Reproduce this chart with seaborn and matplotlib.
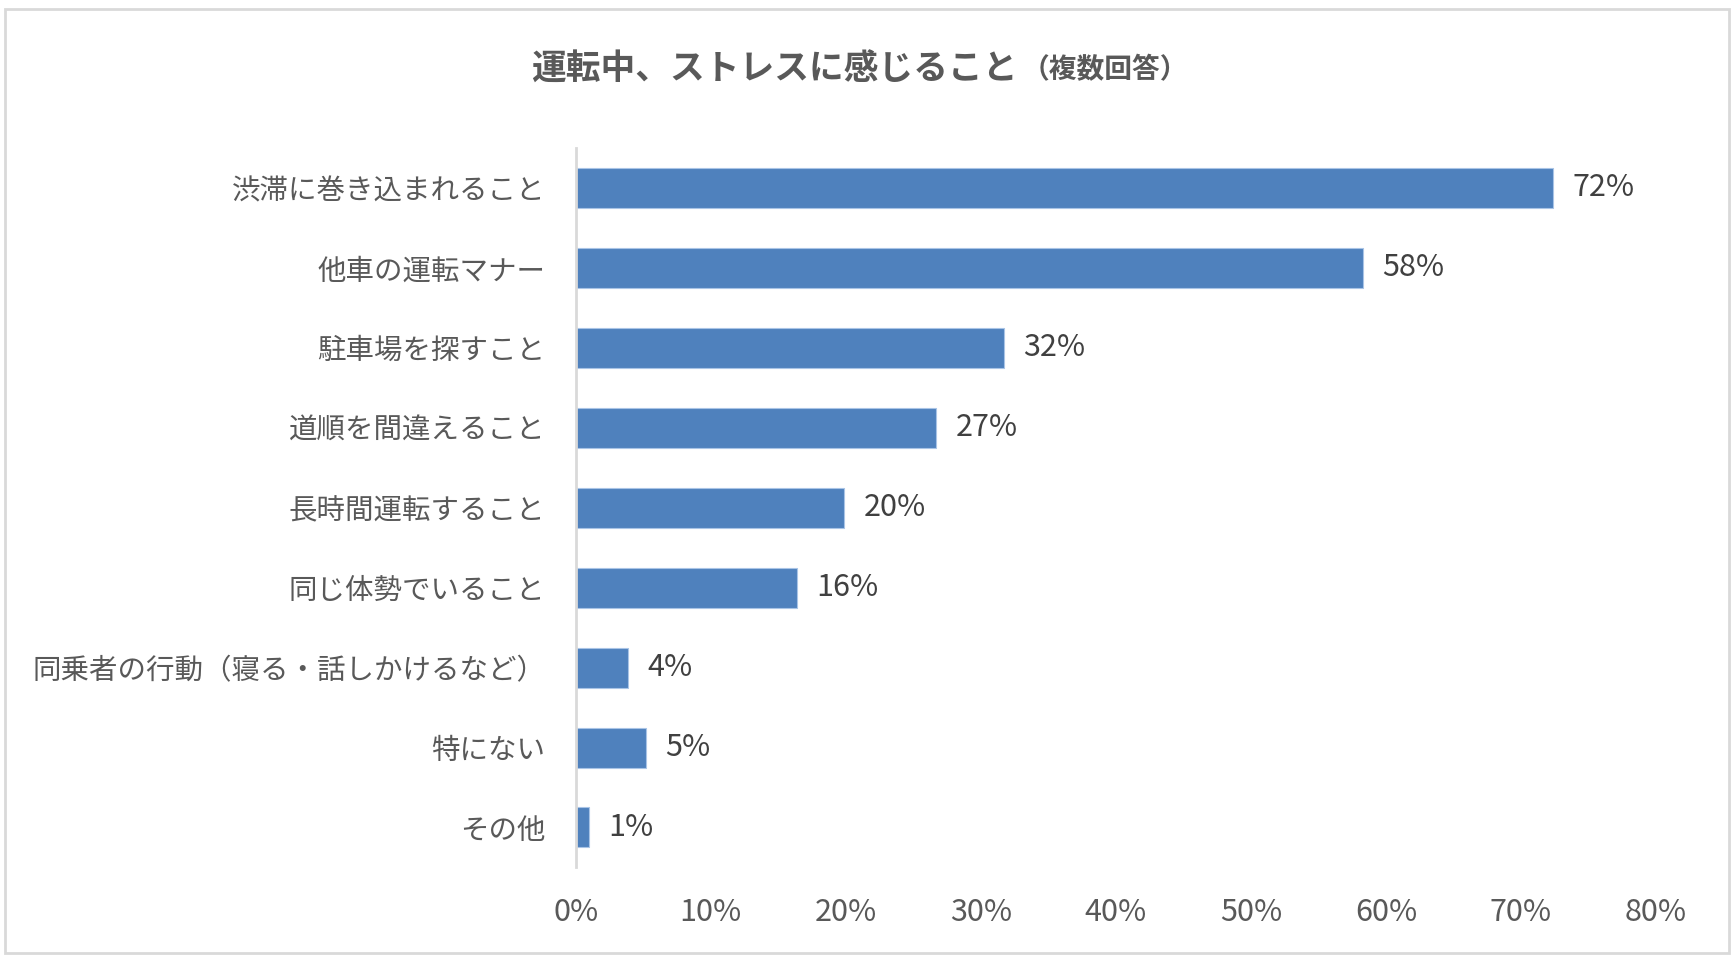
import matplotlib
matplotlib.use("Agg")
import matplotlib.pyplot as plt
import pandas as pd
import seaborn as sns
from matplotlib.patches import Rectangle

# Data (percent)
categories = [
    "渋滞に巻き込まれること",
    "他車の運転マナー",
    "駐車場を探すこと",
    "道順を間違えること",
    "長時間運転すること",
    "同じ体勢でいること",
    "同乗者の行動（寝る・話しかけるなど）",
    "特にない",
    "その他",
]
values = [72.4, 58.3, 31.7, 26.7, 19.9, 16.4, 3.9, 5.2, 1.0]
value_labels = ["72%", "58%", "32%", "27%", "20%", "16%", "4%", "5%", "1%"]
x_ticks = [0, 10, 20, 30, 40, 50, 60, 70, 80]

BAR_COLOR = "#4F81BD"
TEXT_GRAY = "#595959"
LABEL_DARK = "#404040"
LINE_GRAY = "#D9D9D9"

sns.set_style("white")
plt.rcParams["font.family"] = ["Noto Sans CJK JP", "DejaVu Sans"]

df = pd.DataFrame({"item": categories, "pct": values})

fig = plt.figure(figsize=(17.34, 9.58), dpi=100)
ax = fig.add_axes([0.332, 0.0945, 0.623, 0.7512])

sns.barplot(
    data=df,
    x="pct",
    y="item",
    orient="h",
    color=BAR_COLOR,
    width=0.5,
    saturation=1,
    ax=ax,
)
for bar in ax.patches:
    bar.set_edgecolor("#A9C4E6")
    bar.set_linewidth(0.8)

ax.bar_label(ax.containers[0], labels=value_labels, padding=14,
             fontsize=22, color=LABEL_DARK)

ax.set_xlim(0, 80)
ax.set_ylim(len(categories) - 0.5, -0.5)
ax.set_xticks(x_ticks)
ax.set_xticklabels([f"{t}%" for t in x_ticks])
ax.set(xlabel=None, ylabel=None)
ax.tick_params(axis="x", length=0, pad=21, labelsize=22, labelcolor=TEXT_GRAY)
ax.tick_params(axis="y", length=0, pad=22, labelsize=20.5, labelcolor=TEXT_GRAY)

for side in ("top", "right", "bottom"):
    ax.spines[side].set_visible(False)
ax.spines["left"].set_color(LINE_GRAY)
ax.spines["left"].set_linewidth(2)

# Title: main part bold, the "(複数回答)" part smaller
fig.text(0.587, 0.928, "運転中、ストレスに感じること", fontsize=25, fontweight="bold",
         color=TEXT_GRAY, ha="right", va="center")
fig.text(0.589, 0.927, "（複数回答）", fontsize=20, fontweight="bold",
         color=TEXT_GRAY, ha="left", va="center")

# Chart area border
fig.patches.append(Rectangle((0.003, 0.005), 0.994, 0.986, transform=fig.transFigure,
                             fill=False, edgecolor=LINE_GRAY, linewidth=2))

fig.savefig("out.png", dpi=100)
